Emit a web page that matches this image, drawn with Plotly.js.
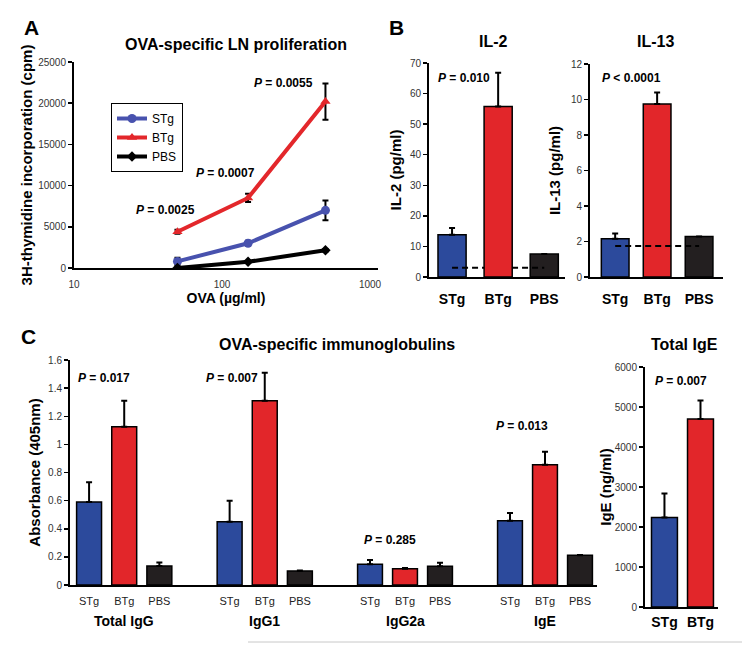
<!DOCTYPE html>
<html>
<head>
<meta charset="utf-8">
<script src="https://cdn.plot.ly/plotly-3.0.1.min.js"></script>
<style>html,body{margin:0;padding:0;background:#fff;}#chart{width:742px;height:647px;}</style>
</head>
<body>
<div id="chart"></div>
<script>
// ---------- DATA ----------
// Panel A: OVA-specific LN proliferation
const ovaDose = [50, 150, 500];
const stgProl = [800, 3000, 7000];
const stgProlErr = [450, 300, 1200];
const btgProl = [4400, 8500, 20200];
const btgProlErr = [250, 500, 2200];
const pbsProl = [0, 750, 2150];
const pbsProlErr = [50, 100, 150];
const profPvals = ['0.0025', '0.0007', '0.0055'];

// Panel B: cytokines
const groups = ['STg', 'BTg', 'PBS'];
const il2 = [13.8, 55.8, 7.5];
const il2Err = [2.2, 11, 0];
const il2Limit = 3;
const il13 = [2.15, 9.75, 2.28];
const il13Err = [0.3, 0.65, 0];
const il13Limit = 1.75;

// Panel C: OVA-specific immunoglobulins
const igClasses = ['Total IgG', 'IgG1', 'IgG2a', 'IgE'];
const stgIg = [0.59, 0.45, 0.147, 0.457];
const stgIgErr = [0.14, 0.15, 0.03, 0.055];
const btgIg = [1.125, 1.31, 0.115, 0.856];
const btgIgErr = [0.185, 0.2, 0.006, 0.092];
const pbsIg = [0.135, 0.1, 0.133, 0.211];
const pbsIgErr = [0.025, 0.003, 0.026, 0.003];
const igPvals = ['0.017', '0.007', '0.285', '0.013'];

// Total IgE
const igeGroups = ['STg', 'BTg'];
const totalIgE = [2240, 4700];
const totalIgEErr = [600, 460];

// ---------- STYLE ----------
const W = 742, H = 647;
const px = v => v / W;
const py = v => 1 - v / H;
const F = 'Liberation Sans, Arial, Helvetica, sans-serif';
const barColors = {STg: '#2C4A9C', BTg: '#E2262A', PBS: '#231F20'};
const lineColors = {STg: '#4852AE', BTg: '#E3272B', PBS: '#000000'};
const zeros = a => a.map(() => 0);
const upErr = (arr) => ({type: 'data', array: arr, arrayminus: zeros(arr), symmetric: false,
  color: '#000', thickness: 2, width: 3});
const barLine = {color: '#000', width: 1.5};

const traces = [];

// Panel A lines
[['STg', stgProl, stgProlErr, 'circle', 9],
 ['BTg', btgProl, btgProlErr, 'triangle-up', 9],
 ['PBS', pbsProl, pbsProlErr, 'diamond', 8]].forEach(([name, y, e, sym, sz]) => {
  traces.push({
    type: 'scatter', mode: 'lines+markers', name: name, x: ovaDose, y: y,
    xaxis: 'x', yaxis: 'y',
    line: {color: lineColors[name], width: 4},
    marker: {symbol: sym, size: sz, color: lineColors[name]},
    error_y: {type: 'data', array: e, color: '#000', thickness: 2, width: 3},
    showlegend: true
  });
});

// Panel B IL-2 (red bar in overlay so dashed line passes behind it)
const il2Front = [1];
const il2Back = [0, 2];
traces.push({
  type: 'bar', x: il2Back.map(i => groups[i]), y: il2Back.map(i => il2[i]),
  xaxis: 'x2', yaxis: 'y2', width: 0.61, showlegend: false,
  marker: {color: il2Back.map(i => barColors[groups[i]]), line: barLine},
  error_y: upErr(il2Back.map(i => il2Err[i]))
});
traces.push({
  type: 'scatter', mode: 'lines', x: groups, y: groups.map(() => il2Limit),
  xaxis: 'x2', yaxis: 'y2', showlegend: false,
  line: {color: '#000', width: 2, dash: '6px,4px'}
});
traces.push({
  type: 'bar', x: il2Front.map(i => groups[i]), y: il2Front.map(i => il2[i]),
  xaxis: 'x2', yaxis: 'y9', width: 0.61, showlegend: false,
  marker: {color: il2Front.map(i => barColors[groups[i]]), line: barLine},
  error_y: upErr(il2Front.map(i => il2Err[i]))
});

// IL-13
traces.push({
  type: 'bar', x: groups, y: il13, xaxis: 'x3', yaxis: 'y3', width: 0.66, showlegend: false,
  marker: {color: groups.map(g => barColors[g]), line: barLine},
  error_y: upErr(il13Err)
});
traces.push({
  type: 'scatter', mode: 'lines', x: groups, y: groups.map(() => il13Limit),
  xaxis: 'x3', yaxis: 'y3', showlegend: false,
  line: {color: '#000', width: 2, dash: '6px,4px'}
});

// Panel C
const cAxes = ['x4', 'x5', 'x6', 'x7'];
igClasses.forEach((cls, k) => {
  const vals = [stgIg[k], btgIg[k], pbsIg[k]];
  const errs = [stgIgErr[k], btgIgErr[k], pbsIgErr[k]];
  traces.push({
    type: 'bar', x: groups, y: vals, xaxis: cAxes[k], yaxis: 'y4', width: 0.71, showlegend: false,
    name: cls,
    marker: {color: groups.map(g => barColors[g]), line: barLine},
    error_y: upErr(errs)
  });
});

// Total IgE
traces.push({
  type: 'bar', x: igeGroups, y: totalIgE, xaxis: 'x8', yaxis: 'y8', width: 0.72, showlegend: false,
  marker: {color: igeGroups.map(g => barColors[g]), line: barLine},
  error_y: upErr(totalIgEErr)
});

// ---------- AXES ----------
const yBase = (domain, range, dtick, title, standoff) => ({
  domain: domain, range: range, dtick: dtick, showline: true, linecolor: '#000', linewidth: 2,
  ticks: 'outside', ticklen: 4, tickwidth: 1.5, tickcolor: '#000', tickformat: 'd',
  tickfont: {size: 10, color: '#333', family: F}, showgrid: false, zeroline: false,
  title: {text: title, font: {size: 15, weight: 'bold', color: '#000', family: F}, standoff: standoff},
  fixedrange: true
});
const xCat = (domain, range, anchor, font, standoff, cats) => ({
  domain: domain, range: range, anchor: anchor, type: 'category',
  categoryorder: 'array', categoryarray: cats,
  showline: true, linecolor: '#000', linewidth: 2, ticks: '', showgrid: false, zeroline: false,
  tickfont: font, ticklabelstandoff: standoff, fixedrange: true
});
const boldTick = {size: 14, weight: 'bold', color: '#000', family: F};
const plainTick = {size: 11, color: '#222', family: F};

const yC = yBase([py(585), py(360)], [0, 1.6], 0.2, 'Absorbance (405nm)', 4);
yC.tickformat = '';

const layout = {
  width: W, height: H, margin: {l: 0, r: 0, t: 0, b: 0, pad: 0},
  paper_bgcolor: '#fff', plot_bgcolor: 'rgba(0,0,0,0)',
  font: {family: F, color: '#000'},
  barmode: 'overlay',
  showlegend: true,
  legend: {x: px(111), y: py(103), xanchor: 'left', yanchor: 'top',
    bordercolor: '#000', borderwidth: 1, bgcolor: '#fff',
    font: {size: 12, color: '#000', family: F}, itemwidth: 30, tracegroupgap: 0},
  xaxis: {domain: [px(74), px(378)], type: 'log', range: [1, 1 + 304 / 148], anchor: 'y',
    tickvals: [10, 100, 1000], ticktext: ['10', '100', '1000'],
    showline: true, linecolor: '#000', linewidth: 2, ticks: '', showgrid: false, zeroline: false,
    tickfont: {size: 10, color: '#333', family: F}, ticklabelstandoff: 6,
    title: {text: 'OVA (µg/ml)', font: {size: 14, weight: 'bold', family: F}, standoff: 2},
    fixedrange: true},
  yaxis: Object.assign(yBase([py(268), py(62)], [0, 25000], 5000, '3H-thymidine incorporation (cpm)', 2), {anchor: 'x'}),
  xaxis2: xCat([px(429), px(565)], [-0.5, 2.45], 'y2', boldTick, 8, groups),
  yaxis2: Object.assign(yBase([py(277), py(63)], [0, 70], 10, 'IL-2 (pg/ml)', 5), {anchor: 'x2'}),
  yaxis9: {overlaying: 'y2', anchor: 'x2', range: [0, 70], visible: false, fixedrange: true},
  xaxis3: xCat([px(590), px(723)], [-0.6, 2.57], 'y3', boldTick, 8, groups),
  yaxis3: Object.assign(yBase([py(277), py(64)], [0, 12], 2, 'IL-13 (pg/ml)', 7), {anchor: 'x3'}),
  xaxis4: xCat([px(70), px(194.5)], [1 - 54 / 35, 3], 'y4', plainTick, 5, groups),
  xaxis5: xCat([px(194.5), px(335)], [-1, 3], 'y4', plainTick, 5, groups),
  xaxis6: xCat([px(335), px(475)], [-1, 3], 'y4', plainTick, 5, groups),
  xaxis7: xCat([px(475), px(597)], [-1, 1 + 52 / 35], 'y4', plainTick, 5, groups),
  yaxis4: Object.assign(yC, {anchor: 'x4'}),
  xaxis8: xCat([px(645), px(718)], [-0.54, 1.486], 'y8', boldTick, 1, igeGroups),
  yaxis8: Object.assign(yBase([py(607), py(367)], [0, 6000], 1000, 'IgE (ng/ml)', 0), {anchor: 'x8'}),
  shapes: [
    {type: 'line', xref: 'paper', yref: 'paper', x0: px(248), x1: 1, y0: py(642), y1: py(642),
     line: {color: '#C8C8C8', width: 1}}
  ],
  annotations: []
};

const ann = (text, x, y, size, extra) => Object.assign({
  text: text, x: x, y: y, xref: 'paper', yref: 'paper', xanchor: 'center', yanchor: 'middle',
  showarrow: false, font: {size: size, color: '#000', family: F}
}, extra || {});
const pText = (op, v) => '<b><i>P</i> ' + op + ' ' + v + '</b>';

// panel letters
layout.annotations.push(ann('<b>A</b>', px(31), py(28), 21));
layout.annotations.push(ann('<b>B</b>', px(397), py(27), 21));
layout.annotations.push(ann('<b>C</b>', px(28), py(337), 21));
// titles
layout.annotations.push(ann('<b>OVA-specific LN proliferation</b>', px(236), py(44), 16));
layout.annotations.push(ann('<b>IL-2</b>', px(493), py(42), 16));
layout.annotations.push(ann('<b>IL-13</b>', px(655), py(42), 16));
layout.annotations.push(ann('<b>OVA-specific immunoglobulins</b>', px(337), py(344), 16));
layout.annotations.push(ann('<b>Total IgE</b>', px(684), py(344), 16));
// P values A
const profPpos = [[165, 210], [225, 173], [283, 83]];
profPvals.forEach((v, i) => layout.annotations.push(ann(pText('=', v), px(profPpos[i][0]), py(profPpos[i][1]), 12)));
// P values B
layout.annotations.push(ann(pText('=', '0.010'), px(464), py(78), 12));
layout.annotations.push(ann(pText('<', '0.0001'), px(631), py(78), 12));
// P values C
const igPpos = [[104, 378], [232, 378], [390, 540], [522, 426]];
igPvals.forEach((v, i) => layout.annotations.push(ann(pText('=', v), px(igPpos[i][0]), py(igPpos[i][1]), 12)));
layout.annotations.push(ann(pText('=', '0.007'), px(681), py(381), 12));
// group labels C
igClasses.forEach((cls, k) => layout.annotations.push(ann('<b>' + cls + '</b>', 'BTg', py(621), 14, {xref: cAxes[k]})));

Plotly.newPlot('chart', traces, layout, {staticPlot: true, displayModeBar: false});
</script>
</body>
</html>
